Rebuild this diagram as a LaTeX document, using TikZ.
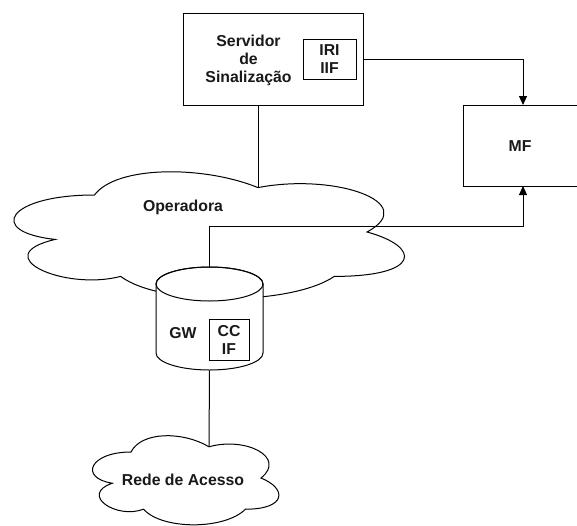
\documentclass[tikz,border=0pt]{standalone}
\usepackage{fontspec}
\setmainfont{Liberation Sans}
\usetikzlibrary{arrows.meta}

% cloud outline in a unit box: #1,#2 = top-left corner, #3,#4 = width, height, #5 = name of the top notch
\newcommand\drawcloud[5]{%
  \begin{scope}[shift={(#1,#2)}, x=#3pt, y=-#4pt]
    \draw[fill=white] (0.25,0.25)
      .. controls (0.05,0.25) and (0,0.5) .. (0.16,0.55)
      .. controls (0,0.66) and (0.18,0.9) .. (0.31,0.8)
      .. controls (0.4,1) and (0.7,1) .. (0.8,0.8)
      .. controls (1,0.8) and (1,0.6) .. (0.875,0.5)
      .. controls (1,0.3) and (0.8,0.1) .. (0.625,0.2)
      .. controls (0.5,0.05) and (0.3,0.05) .. (0.25,0.25) -- cycle;
    \coordinate (#5) at (0.625,0.2);
  \end{scope}}

\begin{document}
\begin{tikzpicture}[x=1pt, y=-1pt, line width=1pt, line join=miter,
  box/.style={draw, fill=white, inner sep=0pt},
  lbl/.style={font=\bfseries\fontsize{15.8}{18}\selectfont, align=center, text=black!90, inner sep=0pt},
  arr/.style={-{Triangle[length=9pt,width=8pt]}}]
\useasboundingbox (0,0) rectangle (577,525);

% access network cloud
\drawcloud{79}{426}{208}{104}{redetop}
\node[lbl] (rede) at (183,480) {Rede de Acesso};

% operator cloud
\drawcloud{-14.5}{158}{436}{148}{optop}
\node[lbl] (oper) at (183,207) {Operadora};

% signalling server
\node[box, minimum width=180pt, minimum height=92pt] (srv) at (273,59) {};
\node[lbl] (srvtxt) at (248.5,60) {Servidor\\de\\Sinalização};
\node[box, lbl, minimum width=53pt, minimum height=40pt] (iri) at (329.5,59) {IRI\\IIF};

% mediation function (right side runs off the page)
\node[box, minimum width=127pt, minimum height=81pt] (mf) at (526.5,145.5) {};
\node[lbl] (mftxt) at (520,146) {MF};
\coordinate (mftop) at (523,105);
\coordinate (mfbot) at (523,186);
\coordinate (srvbot) at (258,105);

% connectors
\draw[arr] (srv.east) -| (mftop);
\draw (srvbot) -- (optop);

% gateway cylinder
\coordinate (gwtop) at (209.5,267);
\coordinate (gwbot) at (209.5,370);
\draw[arr] (gwtop) -- ++(0,-41) -| (mfbot);
\draw (gwbot) -- (redetop);

\filldraw[fill=white] (156,284) -- (156,353)
  arc[start angle=180, end angle=0, x radius=53.5, y radius=17]
  -- (263,284)
  arc[start angle=0, end angle=-180, x radius=53.5, y radius=17] -- cycle;
\draw (209.5,284) ellipse[x radius=53.5, y radius=17];
\node (gw) at (209.5,318.5) [minimum width=107pt, minimum height=103pt] {};
\node[lbl] (gwtxt) at (183,333) {GW};
\node[box, lbl, minimum width=40pt, minimum height=41pt] (ccif) at (229,339.5) {CC\\IF};
\end{tikzpicture}
\end{document}
